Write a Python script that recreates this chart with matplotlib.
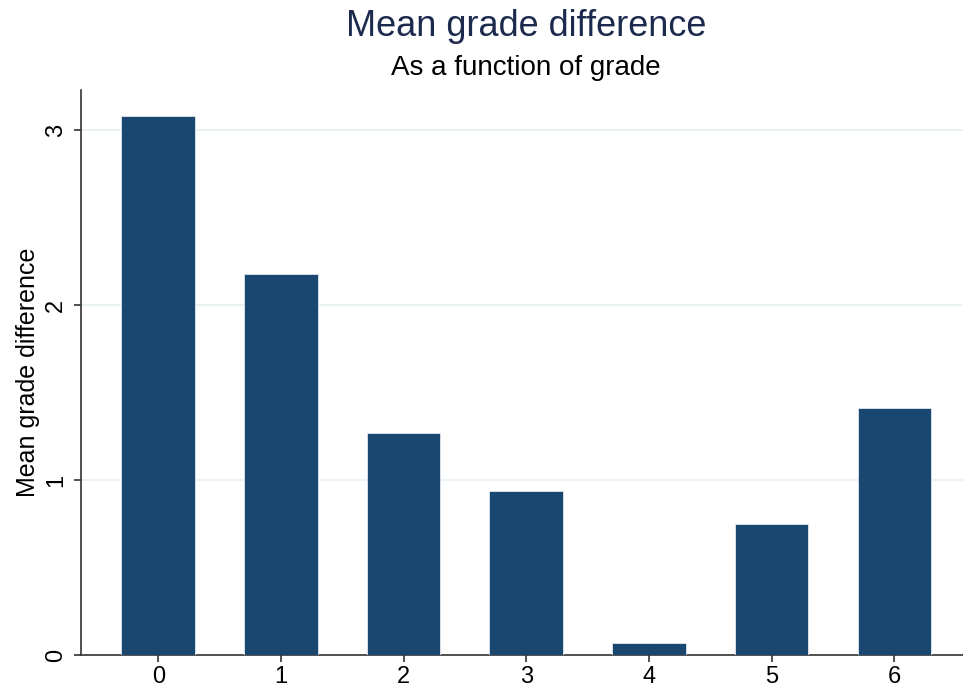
import matplotlib.pyplot as plt

plt.rcParams['font.family'] = ['Liberation Sans', 'DejaVu Sans']

grades = [0, 1, 2, 3, 4, 5, 6]
mean_diff = [3.08, 2.18, 1.27, 0.94, 0.07, 0.75, 1.41]
yticks = [0, 1, 2, 3]

navy = '#1a476f'

fig = plt.figure(figsize=(9.63, 6.87), dpi=100)
ax = fig.add_axes([0.0841, 0.0466, 0.9159, 0.8224])

ax.bar(grades, mean_diff, width=0.6, color=navy, edgecolor='#e0e8f0', linewidth=0.6, zorder=3)

ax.set_xlim(-0.63, 6.56)
ax.set_ylim(0, 3.23)
ax.set_xticks(grades)
ax.set_yticks(yticks)
ax.set_yticklabels([str(t) for t in yticks], rotation=90, va='center')
ax.tick_params(axis='both', labelsize=17, length=5, width=1.2, color='#333333')
ax.tick_params(axis='x', pad=3)
ax.tick_params(axis='y', pad=5)
ax.yaxis.grid(True, color='#eaf2f3', linewidth=1.5, zorder=0)
ax.set_axisbelow(True)

for s in ['top', 'right']:
    ax.spines[s].set_visible(False)
for s in ['left', 'bottom']:
    ax.spines[s].set_linewidth(1.2)
    ax.spines[s].set_color('#333333')

ax.set_ylabel('Mean grade difference', fontsize=18, labelpad=4)

fig.text(0.546, 0.961, 'Mean grade difference', ha='center', va='center', fontsize=26, color='#1c2a4d')
fig.text(0.546, 0.901, 'As a function of grade', ha='center', va='center', fontsize=20, color='black')

fig.savefig('out.png', dpi=100)
